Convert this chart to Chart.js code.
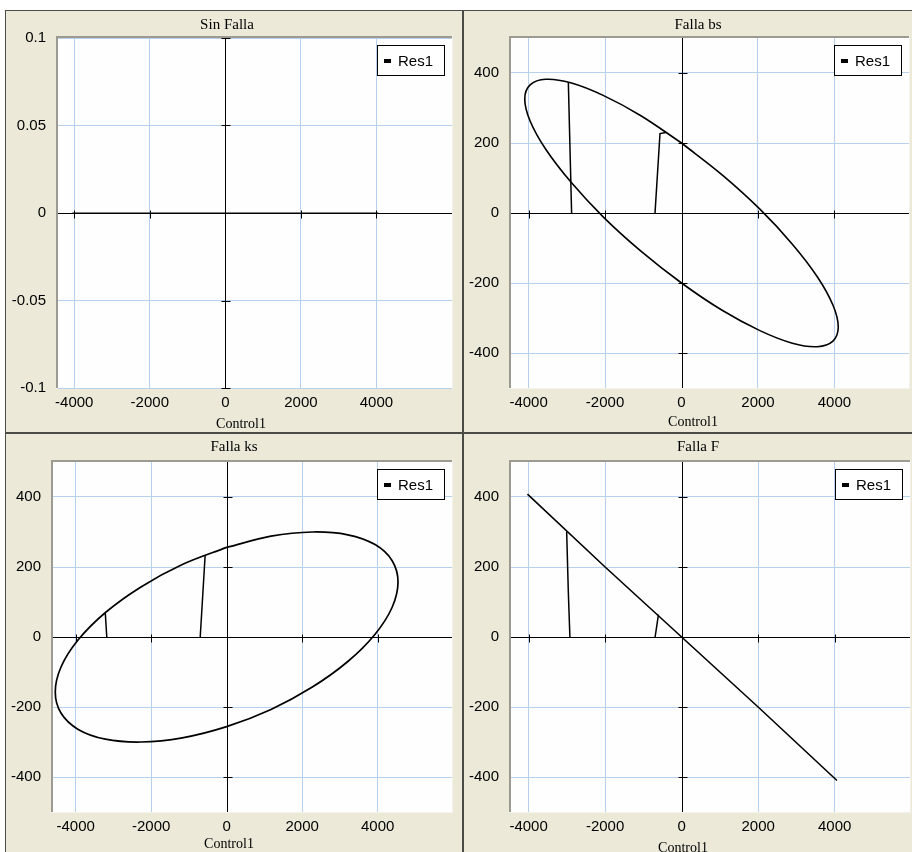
<!DOCTYPE html>
<html>
<head>
<meta charset="utf-8">
<title>Res1 vs Control1</title>
<script src="https://cdn.jsdelivr.net/npm/chart.js@4.4.1/dist/chart.umd.min.js"></script>
<style>
html,body{margin:0;padding:0;background:#ffffff;}
body{width:912px;height:852px;position:relative;overflow:hidden;}
#bg{position:absolute;left:5px;top:10px;width:907px;height:842px;background:#ECE9D8;}
canvas{position:absolute;}
.rule{position:absolute;background:#4b4b47;}
</style>
</head>
<body>
<div id="bg"></div>
<canvas id="c1" width="458" height="423" style="left:5px;top:10px"></canvas>
<canvas id="c2" width="449" height="423" style="left:463px;top:10px"></canvas>
<canvas id="c3" width="458" height="419" style="left:5px;top:433px"></canvas>
<canvas id="c4" width="449" height="419" style="left:463px;top:433px"></canvas>
<div class="rule" style="left:5px;top:10px;width:907px;height:1px"></div>
<div class="rule" style="left:5px;top:10px;width:1px;height:842px"></div>
<div class="rule" style="left:462px;top:10px;width:2px;height:842px"></div>
<div class="rule" style="left:5px;top:432px;width:907px;height:2px"></div>
<script>
// ---------------- DATA ----------------
const panelTitles = ['Sin Falla', 'Falla bs', 'Falla ks', 'Falla F'];
const seriesName = 'Res1';
const xAxisLabel = 'Control1';

const xTicks = [-4000, -2000, 0, 2000, 4000];
const yTicksSinFalla = [-0.1, -0.05, 0, 0.05, 0.1];
const yTicksFalla = [-400, -200, 0, 200, 400];

// Sin Falla: response stays at zero
const sinFallaX = [-4050, -2000, 0, 2000, 4050];
const sinFallaY = [0, 0, 0, 0, 0];

// Falla bs: tilted loop (read around the curve) + start-up transients
const bsLoopX = [0, -1062, -2050, -2899, -3551, -3960, -4100, -3960, -3551, -2899, -2050, -1062, 0, 1062, 2050, 2899, 3551, 3960, 4100, 3960, 3551, 2899, 2050, 1062, 0];
const bsLoopY = [200, 278, 336, 372, 382, 366, 326, 263, 182, 89, -11, -109, -200, -278, -336, -372, -382, -366, -326, -263, -182, -89, 11, 109, 200];
const bsJumpX = [-2875, -2960, null, -693, -563, -410];
const bsJumpY = [0, 372, null, 0, 227, 230];

// Falla ks: tilted loop (read around the curve) + start-up transients
const ksLoopX = [0, -1175, -2270, -3210, -3932, -4385, -4540, -4385, -3932, -3210, -2270, -1175, 0, 1175, 2270, 3210, 3932, 4385, 4540, 4385, 3932, 3210, 2270, 1175, 0];
const ksLoopY = [256, 207, 143, 70, -8, -85, -157, -218, -264, -292, -300, -288, -256, -207, -143, -70, 8, 85, 157, 218, 264, 292, 300, 288, 256];
const ksJumpX = [-3175, -3215, null, -700, -570];
const ksJumpY = [0, 69, null, 0, 233];

// Falla F: straight line + start-up transients
const fLineX = [-4030, -2000, 0, 2000, 4060];
const fLineY = [408, 200, 0, -200, -410];
const fJumpX = [-2920, -2962, -3005, null, -693, -606];
const fJumpY = [0, 130, 301, null, 0, 64];

// ---------------- LAYOUT ----------------
const gridBlue = '#B7D0EC';
Chart.defaults.font.family = "'Liberation Sans', Arial, sans-serif";
Chart.defaults.font.size = 15;
Chart.defaults.color = '#000';

const pts = (xs, ys) => xs.map((v, i) => ({x: v, y: ys[i]}));

const panels = [
  {canvas: 'c1', cell: [5, 10, 458, 423], plot: [58, 38, 452, 388], xRange: [-4430, 6000], yRange: [-0.1, 0.1],
   yTicks: yTicksSinFalla, titlePos: [227, 25], labelPos: [241, 424],
   series: [[sinFallaX, sinFallaY, 0, 1]]},
  {canvas: 'c2', cell: [463, 10, 449, 423], plot: [511, 38, 909, 388], xRange: [-4460, 5950], yRange: [-500, 500],
   yTicks: yTicksFalla, titlePos: [698, 25], labelPos: [693, 422],
   series: [[bsLoopX, bsLoopY, 0.35, 1.6], [bsJumpX, bsJumpY, 0, 1.5]]},
  {canvas: 'c3', cell: [5, 433, 458, 419], plot: [53, 462, 452, 812], xRange: [-4600, 5970], yRange: [-500, 500],
   yTicks: yTicksFalla, titlePos: [234, 447], labelPos: [229, 844],
   series: [[ksLoopX, ksLoopY, 0.35, 1.7], [ksJumpX, ksJumpY, 0, 1.5]]},
  {canvas: 'c4', cell: [463, 433, 449, 419], plot: [511, 462, 910, 812], xRange: [-4460, 5970], yRange: [-500, 500],
   yTicks: yTicksFalla, titlePos: [698, 447], labelPos: [683, 848],
   series: [[fLineX, fLineY, 0, 1.6], [fJumpX, fJumpY, 0, 1.5]]}
];

const xpPlugin = {
  id: 'xpFrame',
  beforeDraw(chart) {
    const {ctx, chartArea: a} = chart;
    ctx.save();
    ctx.fillStyle = '#FEFEFE';
    ctx.fillRect(a.left, a.top, a.right - a.left, a.bottom - a.top);
    ctx.fillStyle = '#9C9A91';
    ctx.fillRect(a.left - 2, a.top - 2, a.right - a.left + 2, 2);
    ctx.fillRect(a.left - 2, a.top - 2, 2, a.bottom - a.top + 2);
    ctx.fillStyle = '#F3F2EC';
    ctx.fillRect(a.left - 2, a.bottom, a.right - a.left + 3, 1);
    ctx.fillRect(a.right, a.top - 2, 1, a.bottom - a.top + 3);
    ctx.restore();
  },
  beforeDatasetsDraw(chart) {
    const {ctx, chartArea: a, scales: {x, y}} = chart;
    const x0 = Math.round(x.getPixelForValue(0)) + 0.5;
    const y0 = Math.round(y.getPixelForValue(0)) + 0.5;
    ctx.save();
    ctx.strokeStyle = '#000';
    ctx.lineWidth = 1;
    ctx.beginPath();
    ctx.moveTo(a.left, y0); ctx.lineTo(a.right, y0);
    ctx.moveTo(x0, a.top); ctx.lineTo(x0, a.bottom);
    x.ticks.forEach(t => {
      const px = Math.round(x.getPixelForValue(t.value)) + 0.5;
      ctx.moveTo(px, y0 - 3); ctx.lineTo(px, y0 + 5);
    });
    y.ticks.forEach(t => {
      const py = Math.round(y.getPixelForValue(t.value)) + 0.5;
      ctx.moveTo(x0 - 4, py); ctx.lineTo(x0 + 5, py);
    });
    ctx.stroke();
    ctx.restore();
  },
  afterDraw(chart, args, o) {
    const {ctx, chartArea: a} = chart;
    ctx.save();
    // legend box
    const bw = 68, bh = 31;
    const bx = Math.round(a.right - 7 - bw), by = Math.round(a.top + 7);
    ctx.fillStyle = '#FFFFFF';
    ctx.fillRect(bx, by, bw, bh);
    ctx.strokeStyle = '#000';
    ctx.lineWidth = 1;
    ctx.strokeRect(bx + 0.5, by + 0.5, bw - 1, bh - 1);
    ctx.fillStyle = '#000';
    ctx.fillRect(bx + 7, by + 14, 7, 4);
    ctx.font = "15px 'Liberation Sans', Arial, sans-serif";
    ctx.textAlign = 'left';
    ctx.textBaseline = 'middle';
    ctx.fillText(chart.data.datasets[0].label, bx + 21, by + bh / 2 + 1);
    // title and axis label
    ctx.font = "15px 'Liberation Serif', 'Times New Roman', serif";
    ctx.textAlign = 'center';
    ctx.fillText(o.title, o.titlePos[0] - o.origin[0], o.titlePos[1] - o.origin[1]);
    ctx.font = "14px 'Liberation Serif', 'Times New Roman', serif";
    ctx.fillText(o.axisLabel, o.labelPos[0] - o.origin[0], o.labelPos[1] - o.origin[1]);
    ctx.restore();
  }
};

panels.forEach((p, idx) => {
  const [cx, cy, cw, ch] = p.cell;
  const [pl, pt, pr, pb] = p.plot;
  const yAxisWidth = pl - cx;
  const xAxisHeight = cy + ch - pb;
  const datasets = p.series.map(([xs, ys, tension, width]) => ({
    label: seriesName,
    data: pts(xs, ys),
    showLine: true,
    spanGaps: false,
    borderColor: '#000',
    backgroundColor: '#000',
    borderWidth: width,
    pointRadius: 0,
    pointHoverRadius: 0,
    tension: tension,
    fill: false
  }));
  new Chart(document.getElementById(p.canvas), {
    type: 'scatter',
    data: {datasets},
    options: {
      responsive: false,
      animation: false,
      events: [],
      layout: {padding: {left: 0, top: pt - cy, right: cx + cw - pr, bottom: 0}},
      plugins: {
        legend: {display: false},
        title: {display: false},
        tooltip: {enabled: false},
        xpFrame: {title: panelTitles[idx], axisLabel: xAxisLabel, titlePos: p.titlePos, labelPos: p.labelPos, origin: [cx, cy]}
      },
      scales: {
        x: {
          type: 'linear', position: 'bottom', min: p.xRange[0], max: p.xRange[1], bounds: 'data',
          afterBuildTicks: s => { s.ticks = xTicks.map(v => ({value: v})); },
          afterFit: s => { s.height = xAxisHeight; },
          grid: {drawTicks: false, lineWidth: 1, color: c => (c.tick && c.tick.value === 0) ? 'rgba(0,0,0,0)' : gridBlue},
          border: {display: false},
          ticks: {autoSkip: false, maxRotation: 0, minRotation: 0, padding: 6, color: '#000', font: {size: 15}, callback: v => String(v)}
        },
        y: {
          type: 'linear', position: 'left', min: p.yRange[0], max: p.yRange[1], bounds: 'data',
          afterBuildTicks: s => { s.ticks = p.yTicks.map(v => ({value: v})); },
          afterFit: s => { s.width = yAxisWidth; },
          grid: {drawTicks: false, lineWidth: 1, color: c => (c.tick && c.tick.value === 0) ? 'rgba(0,0,0,0)' : gridBlue},
          border: {display: false},
          ticks: {autoSkip: false, padding: 12, color: '#000', font: {size: 15}, callback: v => String(v)}
        }
      }
    },
    plugins: [xpPlugin]
  });
});
</script>
</body>
</html>
